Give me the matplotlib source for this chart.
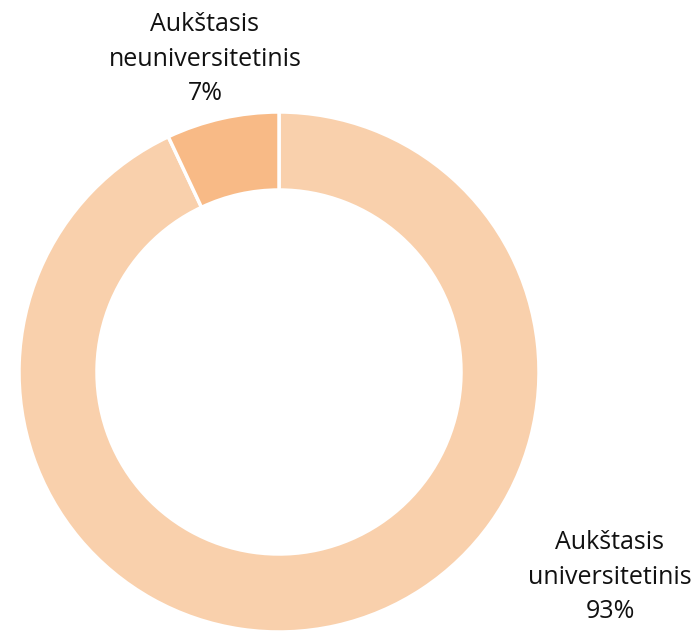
import matplotlib.pyplot as plt

# Data
labels = ["Aukštasis\nuniversitetinis\n93%", "Aukštasis\nneuniversitetinis\n7%"]
values = [93, 7]
colors = ["#F9D0AC", "#F8BA86"]

W, H = 700, 632
cx, cy, r = 279, 372, 260  # donut centre / radius in pixels

fig = plt.figure(figsize=(W / 100, H / 100), dpi=100)
ax = fig.add_axes([0, 0, 1, 1])
ax.pie(values, colors=colors, startangle=90, counterclock=False, radius=1,
       wedgeprops=dict(width=0.3, edgecolor="white", linewidth=2.5))
ax.set_xlim(-cx / r, (W - cx) / r)
ax.set_ylim(-(H - cy) / r, cy / r)
ax.set_aspect("equal")
ax.axis("off")

# label positions (pixel centres)
label_pos = [(610, 577), (205, 59)]
for text, (px, py) in zip(labels, label_pos):
    ax.text((px - cx) / r, (cy - py) / r, text, ha="center", va="center",
            fontsize=18, family="Open Sans", linespacing=1.5, color="#111111")

fig.savefig("out.png", dpi=100)
